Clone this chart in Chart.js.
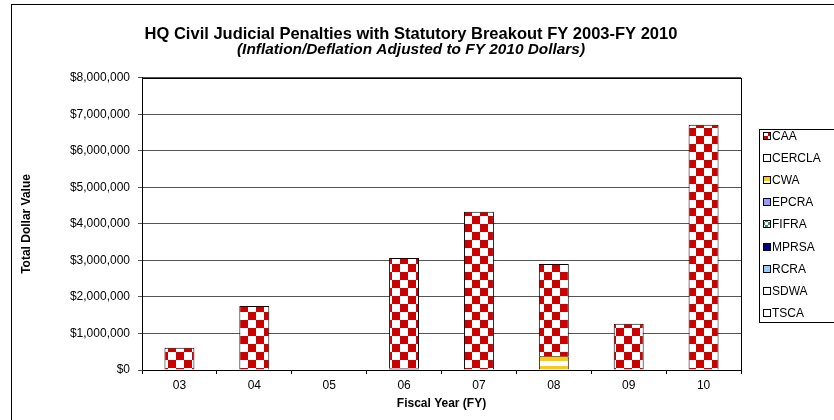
<!DOCTYPE html>
<html>
<head>
<meta charset="utf-8">
<script src="https://cdn.jsdelivr.net/npm/chart.js@4.4.1/dist/chart.umd.min.js"></script>
<style>
body{margin:0;background:#fff}
</style>
</head>
<body>
<canvas id="chart" width="834" height="420"></canvas>
<script>
// FY labels and dollar values per statute
const years  = ["03", "04", "05", "06", "07", "08", "09", "10"];
const caa    = [610000, 1750000, null, 3030000, 4335000, 2520000, 1270000, 6720000];
const cercla = [null, null, null, null, null, null, null, null];
const cwa    = [null, null, null, null, null, 380000, null, null];
const epcra  = [null, null, null, null, null, null, null, null];
const fifra  = [null, null, null, null, null, null, null, null];
const mprsa  = [null, null, null, 40000, null, null, null, null];
const rcra   = [null, null, null, null, null, null, null, null];
const sdwa   = [null, null, null, null, null, null, null, null];
const tsca   = [null, null, null, null, null, null, null, null];
const statutes = ["CAA", "CERCLA", "CWA", "EPCRA", "FIFRA", "MPRSA", "RCRA", "SDWA", "TSCA"];
const yTicks = [0, 1000000, 2000000, 3000000, 4000000, 5000000, 6000000, 7000000, 8000000];

const FONT = "'Liberation Sans', Arial, sans-serif";

function checker(c1, c2, size) {
  const p = document.createElement("canvas");
  p.width = p.height = size * 2;
  const x = p.getContext("2d");
  x.fillStyle = c2; x.fillRect(0, 0, size * 2, size * 2);
  x.fillStyle = c1; x.fillRect(0, 0, size, size); x.fillRect(size, size, size, size);
  return x.createPattern(p, "repeat");
}

// horizontal bands, 10px period, coloured rows at 6..10 and 0..1
function stripes(c1, c2) {
  const p = document.createElement("canvas");
  p.width = 4; p.height = 10;
  const x = p.getContext("2d");
  x.fillStyle = c2; x.fillRect(0, 0, 4, 10);
  x.fillStyle = c1; x.fillRect(0, 6, 4, 4); x.fillRect(0, 0, 4, 1);
  return x.createPattern(p, "repeat");
}

const fills = {
  CAA: checker("#cc0000", "#ffffff", 8),
  CERCLA: "#ffffff",
  CWA: stripes("#ffcc00", "#ffffff"),
  EPCRA: "#9999ff",
  FIFRA: checker("#339966", "#ffffff", 3),
  MPRSA: "#000080",
  RCRA: "#99ccff",
  SDWA: "#ffffff",
  TSCA: "#ffffff"
};
const values = { CAA: caa, CERCLA: cercla, CWA: cwa, EPCRA: epcra, FIFRA: fifra, MPRSA: mprsa, RCRA: rcra, SDWA: sdwa, TSCA: tsca };

// excel stacks the last legend entry at the bottom
const datasets = statutes.slice().reverse().map(name => ({
  label: name,
  data: values[name],
  backgroundColor: fills[name],
  borderColor: "#000",
  borderWidth: 1,
  barPercentage: 0.4,
  categoryPercentage: 1
}));

const frame = {
  id: "frame",
  beforeDraw(chart) {
    const ctx = chart.ctx;
    ctx.save();
    ctx.fillStyle = "#fff";
    ctx.fillRect(0, 0, chart.width, chart.height);
    ctx.strokeStyle = "#000";
    ctx.lineWidth = 1;
    ctx.strokeRect(11.5, 4.5, 900, 500);
    ctx.restore();
  },
  afterDraw(chart) {
    const ctx = chart.ctx;
    const a = chart.chartArea;
    ctx.save();
    ctx.strokeStyle = "#000";
    ctx.lineWidth = 1;
    ctx.strokeRect(Math.round(a.left) + 0.5, Math.round(a.top) + 0.5, Math.round(a.right - a.left), Math.round(a.bottom - a.top));

    // legend box
    ctx.strokeRect(759.5, 129.5, 100, 193);
    ctx.font = "12px " + FONT;
    ctx.textBaseline = "middle";
    statutes.forEach((name, i) => {
      const y = Math.round(136 + i * 22.1);
      ctx.fillStyle = fills[name];
      ctx.fillRect(764, y - 3, 6, 6);
      ctx.strokeRect(763.5, y - 3.5, 7, 7);
      ctx.fillStyle = "#000";
      ctx.fillText(name, 772, y + 0.5);
    });
    ctx.restore();
  }
};

new Chart(document.getElementById("chart"), {
  type: "bar",
  data: { labels: years, datasets },
  plugins: [frame],
  options: {
    responsive: false,
    animation: false,
    devicePixelRatio: 1,
    layout: { padding: { left: 0, right: 12, top: 0, bottom: 0 } },
    plugins: {
      legend: { display: false },
      tooltip: { enabled: false },
      title: {
        display: true,
        text: "HQ Civil Judicial Penalties with Statutory Breakout FY 2003-FY 2010",
        color: "#000",
        font: { family: FONT, size: 16.5, weight: "bold", lineHeight: 1 },
        padding: { top: 26, bottom: 0 }
      },
      subtitle: {
        display: true,
        text: "(Inflation/Deflation Adjusted to FY 2010 Dollars)",
        color: "#000",
        font: { family: FONT, size: 15.4, weight: "bold", style: "italic", lineHeight: 1 },
        padding: { top: 0, bottom: 20 }
      }
    },
    scales: {
      x: {
        stacked: true,
        grid: { display: true, drawOnChartArea: false, drawTicks: true, tickLength: 4, offset: true, color: "#000" },
        border: { color: "#000", width: 1 },
        ticks: { color: "#000", font: { family: FONT, size: 12 }, padding: 4 },
        title: {
          display: true,
          text: "Fiscal Year (FY)",
          color: "#000",
          font: { family: FONT, size: 12, weight: "bold" },
          padding: { top: 0, bottom: 9 }
        },
        afterFit: s => { s.height = 50; }
      },
      y: {
        stacked: true,
        min: 0,
        max: 8000000,
        afterBuildTicks: s => { s.ticks = yTicks.map(v => ({ value: v })); },
        grid: { color: "#555", tickLength: 4 },
        border: { color: "#000", width: 1 },
        ticks: {
          color: "#000",
          font: { family: FONT, size: 12 },
          padding: 8,
          callback: v => "$" + v.toLocaleString("en-US")
        },
        title: {
          display: true,
          text: "Total Dollar Value",
          color: "#000",
          font: { family: FONT, size: 12, weight: "bold" },
          padding: { top: 19, bottom: 0 }
        },
        afterFit: s => { s.width = 142; }
      },
      // empty right-hand box keeps room for the legend while titles span nearly the full width
      side: {
        type: "linear",
        position: "right",
        grid: { display: false },
        border: { display: false },
        ticks: { display: false },
        afterFit: s => { s.width = 81; }
      }
    }
  }
});
</script>
</body>
</html>
